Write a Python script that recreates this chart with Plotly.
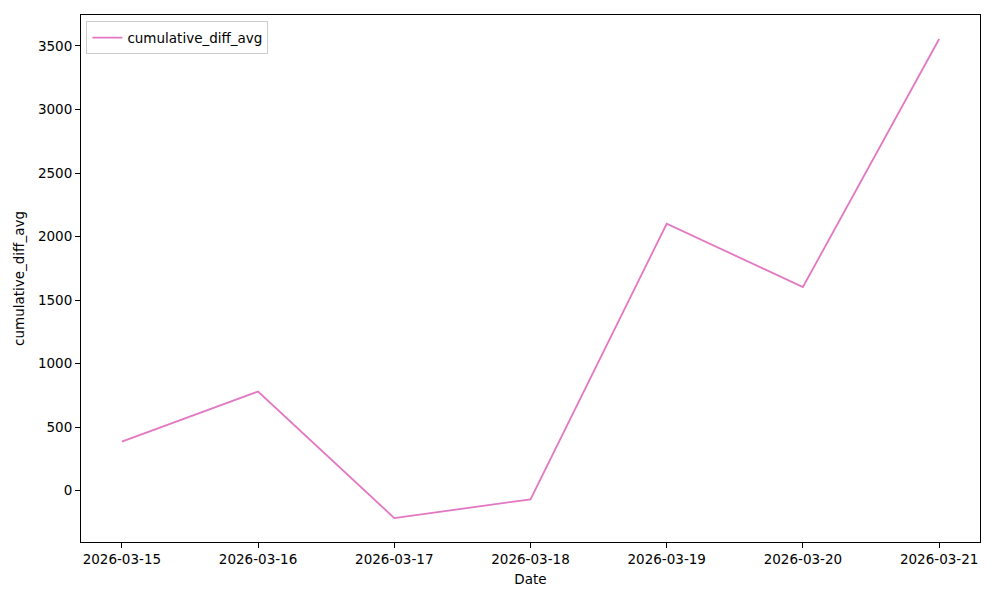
import plotly.graph_objects as go

dates = ["2026-03-15", "2026-03-16", "2026-03-17", "2026-03-18", "2026-03-19", "2026-03-20", "2026-03-21"]
cumulative_diff_avg = [386, 781, -215, -68, 2101, 1603, 3555]

fig = go.Figure()
fig.add_trace(go.Scatter(
    x=dates, y=cumulative_diff_avg, mode="lines", name="cumulative_diff_avg",
    line=dict(color="#e377c2", width=1.8),
))

font = dict(family="DejaVu Sans", size=13.5, color="black")
fig.update_layout(
    width=1000, height=600,
    margin=dict(l=73, r=28, t=7, b=66),
    paper_bgcolor="white", plot_bgcolor="white",
    font=font,
    showlegend=True,
    legend=dict(x=0.006, y=0.988, xanchor="left", yanchor="top",
                bgcolor="rgba(255,255,255,0.8)", bordercolor="#cccccc", borderwidth=1,
                tracegroupgap=0, itemwidth=30,
                font=dict(family="DejaVu Sans", size=13.5, color="black")),
    xaxis=dict(
        type="date", range=["2026-03-14 16:48", "2026-03-21 07:12"],
        tickformat="%Y-%m-%d", dtick=86400000, tick0="2026-03-15",
        showgrid=False, zeroline=False, showline=True, linecolor="black", linewidth=1,
        mirror=True, ticks="outside", ticklen=5, tickcolor="black",
        title=dict(text="Date", font=font, standoff=8),
    ),
    yaxis=dict(
        range=[-403.5, 3743.5], dtick=500, tick0=0,
        showgrid=False, zeroline=False, showline=True, linecolor="black", linewidth=1,
        mirror=True, ticks="outside", ticklen=5, tickcolor="black",
        title=dict(text="cumulative_diff_avg", font=font, standoff=10),
    ),
)

fig.write_html("out.html")
